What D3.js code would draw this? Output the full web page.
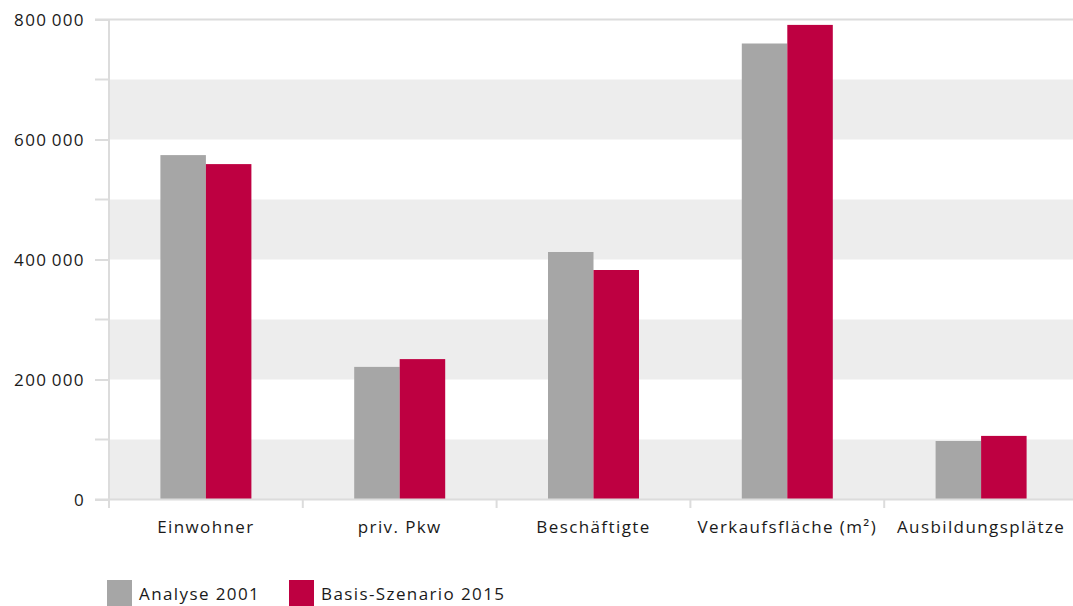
<!DOCTYPE html>
<html>
<head>
<meta charset="utf-8">
<script src="https://cdn.jsdelivr.net/npm/d3@7"></script>
<style>
  body { margin: 0; background: #fff; }
  svg text { font-family: "Open Sans", sans-serif; fill: #1a1a1a; letter-spacing: 1.4px; }
</style>
</head>
<body>
<svg class="chart"></svg>
<script>
const W = 1073, H = 606;
const margin = {top: 19.5, right: -5, bottom: 106.5, left: 109};
var width = W - margin.left - margin.right;
var height = H - margin.top - margin.bottom;

// data
var categories = ["Einwohner", "priv. Pkw", "Beschäftigte", "Verkaufsfläche (m²)", "Ausbildungsplätze"];
var seriesNames = ["Analyse 2001", "Basis-Szenario 2015"];
var analyse2001 = [574000, 221000, 412500, 760000, 97500];
var basis2015 = [559000, 234000, 382500, 791000, 106000];
var yTicks = [0, 200000, 400000, 600000, 800000];
var yMinor = [100000, 300000, 500000, 700000];
var colors = ["#a6a6a6", "#be0041"];

var data = categories.map((c, i) => ({cat: c, values: [analyse2001[i], basis2015[i]]}));

const svg = d3.select('.chart').attr('width', W).attr('height', H);
const chart = svg.append('g')
  .attr('transform', 'translate(' + margin.left + ',' + margin.top + ')');

var y = d3.scaleLinear().domain([0, 800000]).range([height, 0]);
var x0 = d3.scaleBand().domain(categories).range([0, width]);
var barW = 45.5;
var x1 = d3.scaleBand().domain(seriesNames)
  .range([x0.bandwidth() / 2 - barW, x0.bandwidth() / 2 + barW]);

var fmt = d3.formatLocale({decimal: ",", thousands: "\u2009", grouping: [3], currency: ["", "€"]}).format(",d");

// background bands
chart.selectAll('rect.band')
  .data([0, 200000, 400000, 600000])
  .enter().append('rect')
    .attr('class', 'band')
    .attr('x', 0)
    .attr('width', width)
    .attr('y', d => y(d + 100000))
    .attr('height', d => y(d) - y(d + 100000))
    .attr('fill', '#ededed');

// top line
chart.append('line')
  .attr('x1', -14).attr('x2', width)
  .attr('y1', y(800000)).attr('y2', y(800000))
  .attr('stroke', '#dcdcdc').attr('stroke-width', 2);

// minor ticks
chart.selectAll('line.minor')
  .data(yMinor)
  .enter().append('line')
    .attr('x1', -14).attr('x2', 0)
    .attr('y1', d => y(d)).attr('y2', d => y(d))
    .attr('stroke', '#dcdcdc').attr('stroke-width', 2);

// bars
chart.selectAll('g.cat')
  .data(data)
  .enter().append('g')
    .attr('class', 'cat')
    .attr('transform', d => 'translate(' + x0(d.cat) + ',0)')
  .selectAll('rect')
  .data(d => d.values.map((v, i) => ({key: seriesNames[i], value: v, i: i})))
  .enter().append('rect')
    .attr('x', d => x1(d.key))
    .attr('width', x1.bandwidth())
    .attr('y', d => y(d.value))
    .attr('height', d => y(0) - y(d.value))
    .attr('fill', d => colors[d.i]);

// y axis
var yAxis = chart.append('g')
  .call(d3.axisLeft(y).tickValues(yTicks).tickSize(14).tickPadding(10).tickFormat(fmt));
yAxis.select('.domain').remove();
yAxis.selectAll('.tick line').attr('stroke', '#dcdcdc').attr('stroke-width', 2);
yAxis.selectAll('.tick text').style('font-size', '17px').attr('dy', '0.36em')
  .style('font-family', '"Open Sans", sans-serif').attr('fill', '#1a1a1a');

// vertical axis line
chart.append('line')
  .attr('x1', 0).attr('x2', 0)
  .attr('y1', y(800000)).attr('y2', height + 8.5)
  .attr('stroke', '#dcdcdc').attr('stroke-width', 2);

// x axis
var xAxis = chart.append('g')
  .attr('transform', 'translate(0,' + height + ')')
  .call(d3.axisBottom(x0).tickSize(0).tickPadding(21));
xAxis.select('.domain').remove();
xAxis.selectAll('.tick text').style('font-size', '17px')
  .style('font-family', '"Open Sans", sans-serif').attr('fill', '#1a1a1a');

chart.append('line')
  .attr('x1', -14).attr('x2', width)
  .attr('y1', height).attr('y2', height)
  .attr('stroke', '#dcdcdc').attr('stroke-width', 2);

// category separators
chart.selectAll('line.sep')
  .data(categories.slice(1))
  .enter().append('line')
    .attr('x1', d => x0(d)).attr('x2', d => x0(d))
    .attr('y1', height).attr('y2', height + 8.5)
    .attr('stroke', '#dcdcdc').attr('stroke-width', 2);

// legend
var legend = svg.append('g').attr('transform', 'translate(107,580)');
var lx = [0, 182];
var items = legend.selectAll('g')
  .data(seriesNames)
  .enter().append('g')
    .attr('transform', (d, i) => 'translate(' + lx[i] + ',0)');
items.append('rect')
  .attr('width', 25).attr('height', 26)
  .attr('fill', (d, i) => colors[i]);
items.append('text')
  .attr('x', 32).attr('y', 20)
  .style('font-size', '17px')
  .text(d => d);
</script>
</body>
</html>
